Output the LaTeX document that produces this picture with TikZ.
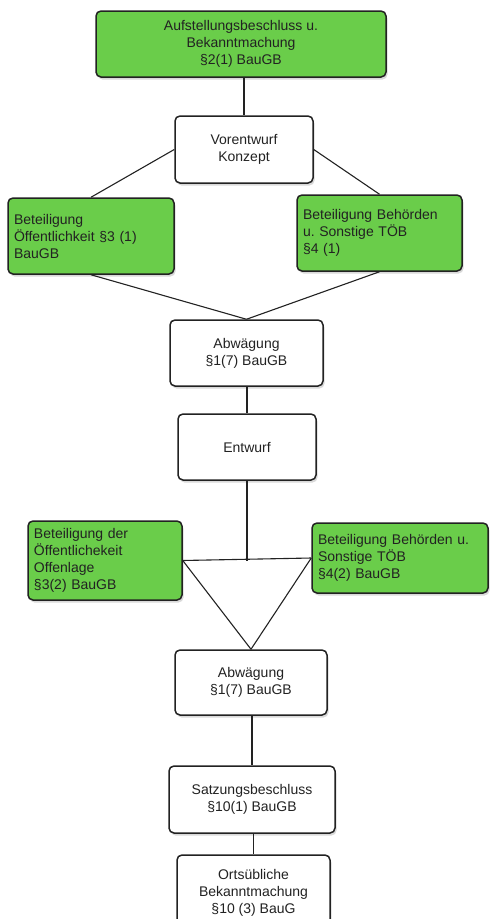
\documentclass[tikz,border=0pt]{standalone}
\usepackage{fontspec}
\setmainfont{Liberation Sans}
\usetikzlibrary{shadows}
\definecolor{boxgreen}{HTML}{6ACD4A}
\definecolor{ink}{HTML}{222222}
\frenchspacing
\begin{document}
\begin{tikzpicture}[x=1pt,y=-1pt,
  box/.style={draw=ink, line width=1.5pt, rounded corners=5pt, inner sep=0pt, align=center,
    font=\fontsize{14}{17}\selectfont, text=ink, fill=white,
    drop shadow={shadow xshift=1.5pt, shadow yshift=-2.5pt, opacity=0.3}},
  gbox/.style={box, fill=boxgreen},
  lbox/.style={gbox, align=left, inner xsep=6pt},
  link/.style={draw=ink, line width=1.1pt}]
\useasboundingbox (0,0) rectangle (490,919);
\clip (0,0) rectangle (490,919);

\node[gbox, minimum width=290pt, minimum height=66pt] (auf) at (241,44)
  {Aufstellungsbeschluss u.\\Bekanntmachung\\§2(1) BauGB};
\node[box, minimum width=138pt, minimum height=67pt] (vor) at (244,149.5)
  {Vorentwurf\\Konzept};
\node[lbox, text width=154pt, minimum height=76pt] (oe1) at (91,236)
  {Beteiligung\\Öffentlichkeit §3 (1)\\BauGB};
\node[lbox, text width=153pt, minimum height=76pt] (beh1) at (379.5,233)
  {Beteiligung Behörden\\u. Sonstige TÖB\\§4 (1)};
\node[box, minimum width=153pt, minimum height=66pt] (abw1) at (246.5,353)
  {Abwägung\\§1(7) BauGB};
\node[box, minimum width=138pt, minimum height=66pt] (ent) at (247,447)
  {Entwurf};
\node[lbox, text width=142pt, minimum height=79pt] (oe2) at (105,560.5)
  {Beteiligung der\\Öffentlichekeit\\Offenlage\\§3(2) BauGB};
\node[lbox, text width=164pt, minimum height=70pt] (beh2) at (400,558)
  {Beteiligung Behörden u.\\Sonstige TÖB\\§4(2) BauGB};
\node[box, minimum width=152pt, minimum height=65pt] (abw2) at (251,682.5)
  {Abwägung\\§1(7) BauGB};
\node[box, minimum width=166pt, minimum height=67pt] (satz) at (252,799.5)
  {Satzungsbeschluss\\§10(1) BauGB};
\node[box, minimum width=153pt, minimum height=76pt] (orts) at (253.5,893)
  {Ortsübliche\\Bekanntmachung\\§10 (3) BauG};

\draw[link] (vor.north |- auf.south) -- (vor.north);
\draw[link] (vor.west) -- (oe1.north);
\draw[link] (vor.east) -- (beh1.north);
\draw[link] (oe1.south) -- (abw1.north);
\draw[link] (beh1.south) -- (abw1.north);
\draw[link] (ent.north |- abw1.south) -- (ent.north);
\coordinate (junc) at (ent.south |- oe2.east);
\draw[link] (ent.south) -- (junc);
\draw[link] (oe2.east) -- (beh2.west);
\draw[link] (oe2.east) -- (abw2.north);
\draw[link] (beh2.west) -- (abw2.north);
\draw[link] (abw2.south) -- (satz.north |- abw2.south) -- (satz.north);
\draw[link] (orts.north |- satz.south) -- (orts.north);
\end{tikzpicture}
\end{document}
